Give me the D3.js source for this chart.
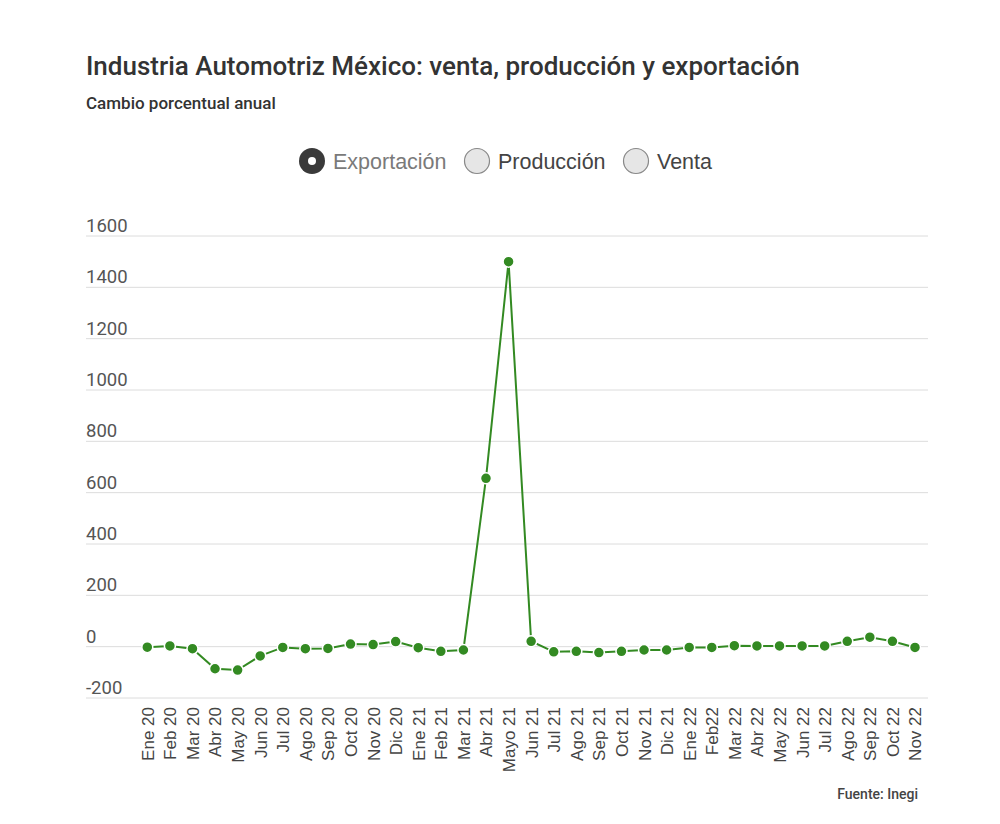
<!DOCTYPE html>
<html>
<head>
<meta charset="utf-8">
<script src="https://cdn.jsdelivr.net/npm/d3@7"></script>
<style>
  body { margin: 0; background: #fff; font-family: Roboto, "Noto Sans", sans-serif; }
  svg { display: block; }
</style>
</head>
<body>
<svg id="chart" width="1000" height="824"></svg>
<script>
// Monthly annual % change, Ene 2020 .. Nov 2022 (exports series shown)
var months = ["Ene 20", "Feb 20", "Mar 20", "Abr 20", "May 20", "Jun 20", "Jul 20", "Ago 20",
  "Sep 20", "Oct 20", "Nov 20", "Dic 20", "Ene 21", "Feb 21", "Mar 21", "Abr 21", "Mayo 21",
  "Jun 21", "Jul 21", "Ago 21", "Sep 21", "Oct 21", "Nov 21", "Dic 21", "Ene 22", "Feb22",
  "Mar 22", "Abr 22", "May 22", "Jun 22", "Jul 22", "Ago 22", "Sep 22", "Oct 22", "Nov 22"];
var exportacion = [-2, 3, -8, -86, -91, -36, -3, -8, -7, 10, 8, 20, -4, -18, -13, 656, 1500,
  21, -20, -18, -23, -18, -13, -13, -3, -3, 4, 3, 3, 3, 3, 21, 37, 21, -3];
var yTicks = [-200, 0, 200, 400, 600, 800, 1000, 1200, 1400, 1600];
var legendItems = ["Exportación", "Producción", "Venta"];

(function () {
  var svg = d3.select("#chart");
  var green = "#338a22";
  var arial = "'Liberation Sans', Arial, sans-serif";

  svg.append("text").attr("x", 86).attr("y", 75)
    .attr("font-size", 26).attr("font-weight", 500).attr("fill", "#333")
    .text("Industria Automotriz México: venta, producción y exportación");
  svg.append("text").attr("x", 86).attr("y", 109)
    .attr("font-size", 17).attr("font-weight", 500).attr("fill", "#333")
    .text("Cambio porcentual anual");

  // Radio-style legend, first one selected
  var legendX = [312, 477, 636];
  var lg = svg.append("g").selectAll("g").data(legendItems).join("g")
    .attr("transform", function (d, i) { return "translate(" + legendX[i] + ",161)"; });
  lg.append("circle").attr("r", function (d, i) { return i === 0 ? 13 : 12.5; })
    .attr("fill", function (d, i) { return i === 0 ? "#3a3a3a" : "#e6e6e6"; })
    .attr("stroke", function (d, i) { return i === 0 ? "none" : "#888"; })
    .attr("stroke-width", 1.2);
  lg.filter(function (d, i) { return i === 0; }).append("circle").attr("r", 4).attr("fill", "#fff");
  lg.append("text").attr("x", 21).attr("y", 8).attr("font-size", 21.5)
    .attr("font-family", arial)
    .attr("fill", function (d, i) { return i === 0 ? "#7a7a7a" : "#444"; })
    .text(function (d) { return d; });

  var x = d3.scalePoint().domain(months).range([147.3, 915]);
  var y = d3.scaleLinear().domain([-200, 1600]).range([698, 236]);

  var grid = svg.append("g");
  grid.selectAll("line").data(yTicks).join("line")
    .attr("x1", 86).attr("x2", 928)
    .attr("y1", function (d) { return y(d); }).attr("y2", function (d) { return y(d); })
    .attr("stroke", "#dcdcdc").attr("stroke-width", 1);
  grid.selectAll("text").data(yTicks).join("text")
    .attr("x", 86).attr("y", function (d) { return y(d) - 4; })
    .attr("font-size", 18.5).attr("fill", "#555")
    .text(function (d) { return d; });

  var xAxis = svg.append("g").attr("transform", "translate(0,698)")
    .call(d3.axisBottom(x).tickSize(0).tickPadding(0));
  xAxis.select(".domain").remove();
  xAxis.selectAll("text")
    .attr("font-family", arial).attr("font-size", 17).attr("fill", "#444")
    .attr("text-anchor", "end").attr("dy", "0.35em")
    .attr("transform", "translate(0,9) rotate(-90)").attr("x", 0).attr("y", 0);

  var line = d3.line()
    .x(function (d, i) { return x(months[i]); })
    .y(function (d) { return y(d); });
  svg.append("path").datum(exportacion).attr("d", line)
    .attr("fill", "none").attr("stroke", green).attr("stroke-width", 2);

  svg.append("g").selectAll("circle").data(exportacion).join("circle")
    .attr("cx", function (d, i) { return x(months[i]); })
    .attr("cy", function (d) { return y(d); })
    .attr("r", 5.5).attr("fill", green)
    .attr("stroke", "#fff").attr("stroke-width", 1.5);

  svg.append("text").attr("x", 918).attr("y", 799).attr("text-anchor", "end")
    .attr("font-size", 14).attr("font-weight", 500).attr("fill", "#444")
    .text("Fuente: Inegi");
})();
</script>
</body>
</html>
